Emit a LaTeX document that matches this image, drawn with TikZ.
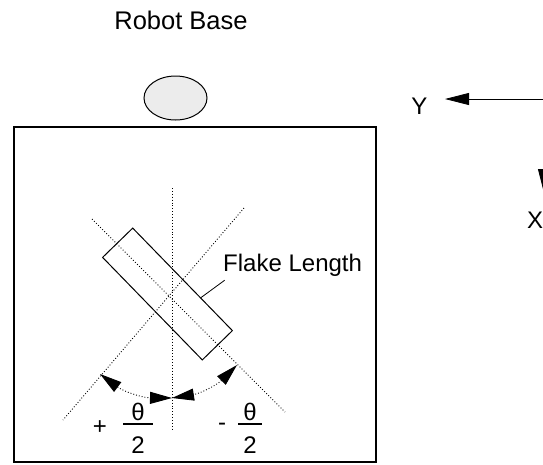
\documentclass[tikz,border=0pt]{standalone}
\usepackage{fontspec}
\setmainfont{Liberation Sans}
\usetikzlibrary{shapes.geometric, arrows.meta, positioning, calc}

\begin{document}
\begin{tikzpicture}[x=1pt, y=-1pt,
    font=\fontsize{24}{28}\selectfont,
    arr/.style={-{Triangle[length=24pt, width=12pt]}, line width=0.8pt},
    guide/.style={dotted, line width=0.9pt},
    swing/.style={{Triangle[length=22pt, width=12pt]}-{Triangle[length=22pt, width=12pt]},
                  dotted, line width=0.9pt}
  ]
    \useasboundingbox (0,0) rectangle (543,464);
    \clip (0,0) rectangle (543,464);

    \node[font=\fontsize{25.5}{30}\selectfont] (base) at (181,20.5) {Robot Base};
    \node[draw, ellipse, fill=gray!15, line width=1pt, inner sep=0pt,
          minimum width=63pt, minimum height=44pt] (hub) at (175.5,98) {};

    \node[draw, line width=1.3pt, inner sep=0pt,
          minimum width=362pt, minimum height=335pt] (cell) at (195,294.5) {};

    % guide lines
    \coordinate (v1) at (172.5,188);
    \coordinate (v2) at (172.5,430);
    \coordinate (a1) at (92,219);
    \coordinate (a2) at (285,412);
    \coordinate (b1) at (244,208);
    \coordinate (b2) at (63,420);
    \draw[guide] (v1) -- (v2);
    \draw[guide] (a1) -- (a2);
    \draw[guide] (b1) -- (b2);

    \node[draw, line width=1pt, inner sep=0pt, rotate=-45.8,
          minimum width=143pt, minimum height=42pt] (flake) at (167.5,294) {};
    \node[anchor=west] (lbl) at (219.7,265.5) {Flake Length};
    \draw[line width=0.8pt]
      ($(flake.north west)!0.68!(flake.north east)$) -- ([xshift=5pt]lbl.south west);

    % angle arrows
    \coordinate (pl) at (100,374);
    \coordinate (pm) at (172,398);
    \coordinate (pr) at (237,365);
    \draw[swing] (pl) to[bend right=18] (pm);
    \draw[swing] (pr) to[bend left=18] (pm);

    \node (plus) at (100,428) {+};
    \node[align=center] (halfl) at (138,428) {θ\\[-23pt]\rule{30pt}{1.8pt}\\2};
    \node (minus) at (222,427) {-};
    \node[align=center] (halfr) at (250,428) {θ\\[-23pt]\rule{24pt}{1.8pt}\\2};

    % axes
    \coordinate (origin) at (544,99);
    \coordinate (ytip) at (445,99);
    \coordinate (xtip) at (544,193);
    \draw[arr] (origin) -- (ytip);
    \draw[arr] (origin) -- (xtip);
    \node[left=14pt of ytip, yshift=-7.5pt] (ylbl) {Y};
    \node[below=15pt of xtip, xshift=-9pt] (xlbl) {X};
\end{tikzpicture}
\end{document}
